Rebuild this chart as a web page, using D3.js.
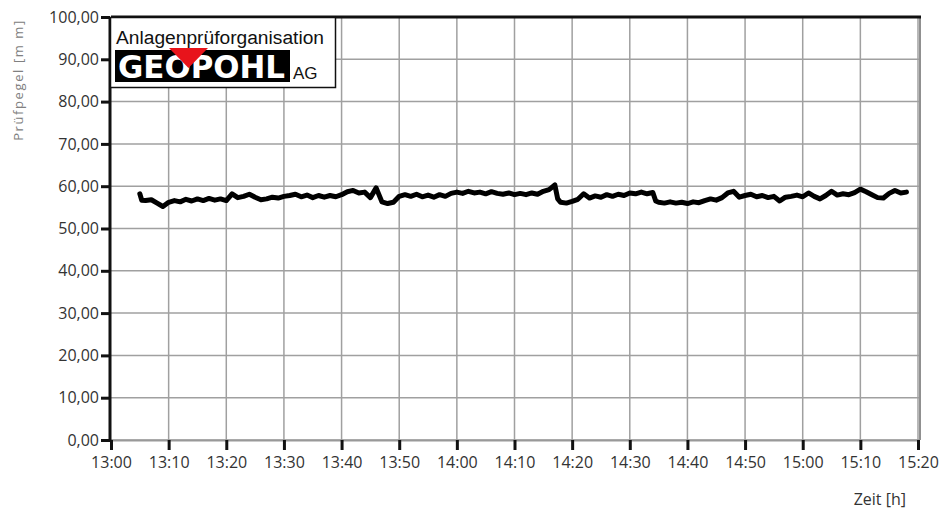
<!DOCTYPE html>
<html>
<head>
<meta charset="utf-8">
<script src="https://cdn.jsdelivr.net/npm/d3@7"></script>
<style>
  html, body { margin: 0; padding: 0; background: #fff; }
  svg { display: block; }
  .tick text { font-family: "Open Sans", "DejaVu Sans", sans-serif; font-size: 16px; fill: #333; }
</style>
</head>
<body>
<svg id="chart" width="941" height="512"></svg>
<script>
// Sample times (hh:mm or hh:mm:ss) and level readings in mm
const times = [
  "13:05","13:05:20","13:06","13:07","13:08","13:09","13:10","13:11","13:12","13:13","13:14",
  "13:15","13:16","13:17","13:18","13:19","13:20","13:21","13:22","13:23","13:24",
  "13:25","13:26","13:27","13:28","13:29","13:30","13:31","13:32","13:33","13:34",
  "13:35","13:36","13:37","13:38","13:39","13:40","13:41","13:42","13:43","13:44",
  "13:45","13:46","13:47","13:48","13:49","13:50","13:51","13:52","13:53","13:54",
  "13:55","13:56","13:57","13:58","13:59","14:00","14:01","14:02","14:03","14:04",
  "14:05","14:06","14:07","14:08","14:09","14:10","14:11","14:12","14:13","14:14",
  "14:15","14:16","14:17","14:17:30","14:18","14:19","14:20","14:21","14:22","14:23",
  "14:24","14:25","14:26","14:27","14:28","14:29","14:30","14:31","14:32","14:33",
  "14:34","14:34:30","14:35","14:36","14:37","14:38","14:39","14:40","14:41","14:42",
  "14:43","14:44","14:45","14:46","14:47","14:48","14:49","14:50","14:51","14:52",
  "14:53","14:54","14:55","14:56","14:57","14:58","14:59","15:00","15:01","15:02",
  "15:03","15:04","15:05","15:06","15:07","15:08","15:09","15:10","15:11","15:12",
  "15:13","15:14","15:15","15:16","15:17","15:18"
];
const levels = [
  58.2,56.7,56.6,56.8,56.0,55.2,56.2,56.6,56.3,56.9,56.5,
  57.0,56.6,57.1,56.7,57.0,56.6,58.2,57.3,57.6,58.1,
  57.4,56.8,57.0,57.4,57.2,57.6,57.8,58.1,57.5,57.9,
  57.3,57.8,57.4,57.8,57.5,58.0,58.7,59.0,58.4,58.6,
  57.3,59.6,56.3,55.9,56.2,57.6,58.0,57.6,58.1,57.5,
  57.9,57.4,58.0,57.6,58.3,58.6,58.3,58.8,58.4,58.6,
  58.2,58.7,58.3,58.1,58.4,58.0,58.3,58.0,58.4,58.1,
  58.8,59.2,60.3,57.0,56.2,56.0,56.4,56.9,58.2,57.2,
  57.7,57.4,58.0,57.6,58.1,57.8,58.4,58.2,58.6,58.2,
  58.5,56.5,56.2,56.0,56.3,56.0,56.2,55.9,56.3,56.1,
  56.6,57.0,56.7,57.3,58.4,58.8,57.4,57.8,58.1,57.5,
  57.8,57.3,57.6,56.5,57.4,57.6,57.9,57.5,58.4,57.6,
  57.0,57.8,58.8,57.9,58.2,58.0,58.5,59.3,58.7,58.0,
  57.3,57.2,58.3,59.0,58.4,58.6,57.5
];
const xTickLabels = ["13:00","13:10","13:20","13:30","13:40","13:50","14:00","14:10",
                     "14:20","14:30","14:40","14:50","15:00","15:10","15:20"];
const yTickValues = [0,10,20,30,40,50,60,70,80,90,100];

const parseT = s => d3.timeParse("%H:%M:%S")(s.length === 5 ? s + ":00" : s);
const data = times.map((t, i) => ({ t: parseT(t), v: levels[i] }));
const xTicks = xTickLabels.map(parseT);

const de = d3.formatLocale({ decimal: ",", thousands: ".", grouping: [3], currency: ["", " €"] });
const fmtY = de.format(".2f");

const svg = d3.select("#chart");
const L = 111, R = 918, T = 17, B = 440;

const x = d3.scaleTime().domain([xTicks[0], xTicks[xTicks.length - 1]]).range([L, R]);
const y = d3.scaleLinear().domain([0, 100]).range([B, T]);

// grid
const grid = svg.append("g").attr("stroke", "#a0a0a0").attr("stroke-width", 1.5);
grid.selectAll("line.v").data(xTicks.slice(1)).join("line")
  .attr("x1", d => x(d)).attr("x2", d => x(d)).attr("y1", T).attr("y2", B);
grid.selectAll("line.h").data(yTickValues.slice(0, -1)).join("line")
  .attr("x1", L).attr("x2", R + 2).attr("y1", d => y(d)).attr("y2", d => y(d));
// right border
svg.append("line").attr("x1", R + 2).attr("x2", R + 2).attr("y1", T).attr("y2", B)
  .attr("stroke", "#909090").attr("stroke-width", 2);
// top border
svg.append("line").attr("x1", L).attr("x2", R + 3).attr("y1", T).attr("y2", T)
  .attr("stroke", "#111").attr("stroke-width", 3);

// x axis
const xAxis = svg.append("g").attr("transform", `translate(0,${B})`)
  .call(d3.axisBottom(x).tickValues(xTicks).tickFormat(d3.timeFormat("%H:%M")).tickSize(10).tickPadding(7));
xAxis.select(".domain").attr("stroke", "#999").attr("stroke-width", 2);
xAxis.selectAll(".tick line").attr("stroke", "#111").attr("stroke-width", 3);

// y axis
const yAxis = svg.append("g").attr("transform", `translate(${L - 1},0)`)
  .call(d3.axisLeft(y).tickValues(yTickValues).tickFormat(fmtY).tickSize(9).tickPadding(2));
yAxis.select(".domain").attr("stroke", "#111").attr("stroke-width", 3).attr("d", `M0,${T}V${B + 1}`);
yAxis.selectAll(".tick line").attr("stroke", "#111").attr("stroke-width", 3);

// series
svg.append("path").datum(data)
  .attr("fill", "none").attr("stroke", "#000").attr("stroke-width", 5)
  .attr("stroke-linejoin", "round").attr("stroke-linecap", "round")
  .attr("d", d3.line().x(d => x(d.t)).y(d => y(d.v)));

// axis titles
svg.append("text").attr("transform", "translate(23,80) rotate(-90)")
  .attr("text-anchor", "middle").attr("fill", "#808080")
  .style("font-family", "'Open Sans', sans-serif").style("font-size", "13px").style("letter-spacing", "1.6px")
  .text("Prüfpegel [m m]");
svg.append("text").attr("x", 906).attr("y", 505).attr("text-anchor", "end").attr("fill", "#333")
  .style("font-family", "'Open Sans', sans-serif").style("font-size", "16px")
  .text("Zeit [h]");

// company badge
const badge = svg.append("g");
badge.append("rect").attr("x", 110.5).attr("y", 17.5).attr("width", 225).attr("height", 70)
  .attr("fill", "#fff").attr("stroke", "#111").attr("stroke-width", 1.5);
badge.append("text").attr("x", 116).attr("y", 44).attr("textLength", 208).attr("lengthAdjust", "spacingAndGlyphs")
  .style("font-family", "'Liberation Sans', Arial, sans-serif").style("font-size", "18px").attr("fill", "#111")
  .text("Anlagenprüforganisation");
badge.append("rect").attr("x", 115).attr("y", 50).attr("width", 175).attr("height", 32).attr("fill", "#000");
badge.append("text").attr("x", 118).attr("y", 78).attr("textLength", 167).attr("lengthAdjust", "spacingAndGlyphs")
  .style("font-family", "'DejaVu Sans', sans-serif").style("font-weight", "bold").style("font-size", "32px")
  .attr("fill", "#fff").text("GEOPOHL");
badge.append("path").attr("d", "M169,48 L208,48 L188.5,68 Z").attr("fill", "#e8141b");
badge.append("text").attr("x", 293).attr("y", 79)
  .style("font-family", "'Liberation Sans', Arial, sans-serif").style("font-size", "17px").attr("fill", "#111")
  .text("AG");
</script>
</body>
</html>
